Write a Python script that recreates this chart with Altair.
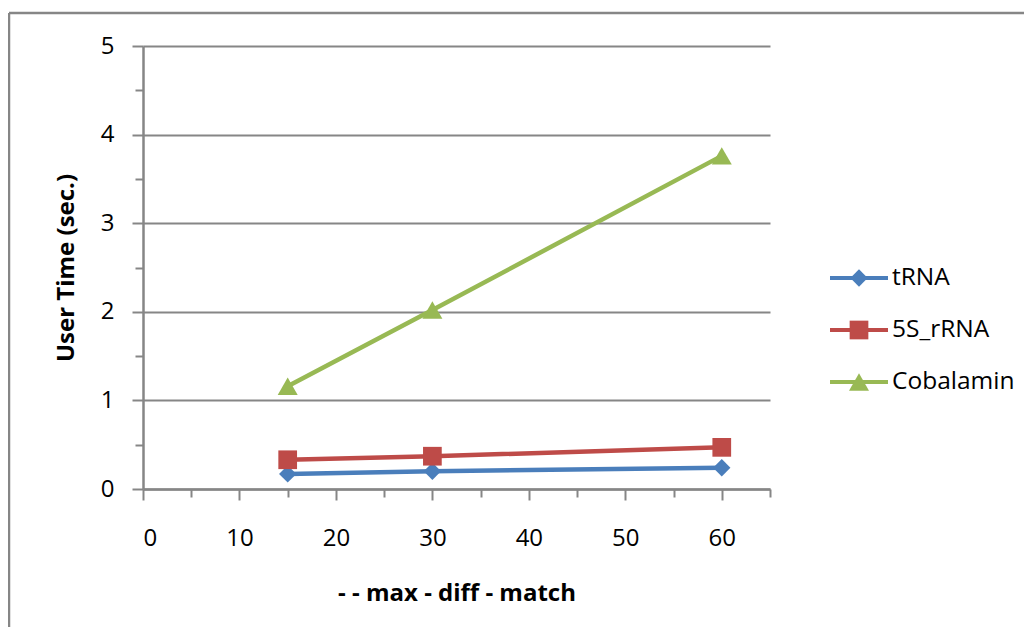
import altair as alt
import pandas as pd

x_values = [15, 30, 60]
series_names = ["tRNA", "5S_rRNA", "Cobalamin"]
trna = [0.17, 0.20, 0.24]
rrna = [0.33, 0.37, 0.47]
cobalamin = [1.16, 2.02, 3.76]
colors = ["#4A7EBB", "#BE4B48", "#98B954"]
shapes = ["diamond", "square", "triangle-up"]
sizes = [300, 400, 380]
legend_sizes = [130, 280, 220]

rows = []
for name, vals in zip(series_names, [trna, rrna, cobalamin]):
    for xv, yv in zip(x_values, vals):
        rows.append({"series": name, "x": xv, "y": yv})
df = pd.DataFrame(rows)

leg = pd.DataFrame({
    "series": series_names,
    "row": list(range(len(series_names))),
    "lx0": [0.0] * 3,
    "lx1": [1.0] * 3,
    "lxm": [0.5] * 3,
})

FONT = "Open Sans"
GRAY = "#868686"

color_scale = alt.Scale(domain=series_names, range=colors)
shape_scale = alt.Scale(domain=series_names, range=shapes)
size_scale = alt.Scale(domain=series_names, range=sizes)
lsize_scale = alt.Scale(domain=series_names, range=legend_sizes)

xs = alt.Scale(domain=[0, 65], nice=False, zero=True)
ys = alt.Scale(domain=[0, 5], nice=False)

x_axis = alt.Axis(
    values=list(range(0, 70, 5)),
    labelExpr="datum.value % 10 === 0 ? datum.label : ''",
    title="- - max - diff - match",
    titleFont=FONT, titleFontSize=24, titleFontWeight="bold", titleColor="black",
    titlePadding=31,
    labelFont=FONT, labelFontSize=24, labelColor="black", labelPadding=26,
    grid=False, domainColor=GRAY, domainWidth=2.5,
    tickColor=GRAY, tickWidth=2,
    tickSize={"condition": {"test": "datum.value % 10 === 0", "value": 11}, "value": 8},
)
y_axis = alt.Axis(
    values=[i * 0.5 for i in range(0, 11)],
    labelExpr="datum.value % 1 === 0 ? format(datum.value, 'd') : ''",
    title="User Time (sec.)",
    titleFont=FONT, titleFontSize=24, titleFontWeight="bold", titleColor="black",
    titlePadding=22,
    labelFont=FONT, labelFontSize=24, labelColor="black", labelPadding=18,
    grid=True, gridColor=GRAY, gridWidth=2,
    gridOpacity={"condition": {"test": "datum.value % 1 === 0", "value": 1}, "value": 0},
    domainColor=GRAY, domainWidth=2.5,
    tickColor=GRAY, tickWidth=2,
    tickSize={"condition": {"test": "datum.value % 1 === 0", "value": 11}, "value": 8},
)

base = alt.Chart(df)
lines = base.mark_line(strokeWidth=4.5).encode(
    x=alt.X("x:Q", scale=xs, axis=x_axis),
    y=alt.Y("y:Q", scale=ys, axis=y_axis),
    color=alt.Color("series:N", scale=color_scale, legend=None),
    detail="series:N",
)
points = base.mark_point(filled=True, opacity=1).encode(
    x=alt.X("x:Q", scale=xs),
    y=alt.Y("y:Q", scale=ys),
    color=alt.Color("series:N", scale=color_scale, legend=None),
    shape=alt.Shape("series:N", scale=shape_scale, legend=None),
    size=alt.Size("series:N", scale=size_scale, legend=None),
)
main = alt.layer(lines, points)

lxs = alt.Scale(domain=[0, 1], range=[687, 745])
lys = alt.Scale(domain=[0, 2], range=[232, 336])
lb = alt.Chart(leg)
leg_rule = lb.mark_rule(strokeWidth=4).encode(
    x=alt.X("lx0:Q", scale=lxs, axis=None),
    x2="lx1:Q",
    y=alt.Y("row:Q", scale=lys, axis=None),
    color=alt.Color("series:N", scale=color_scale, legend=None),
)
leg_pt = lb.mark_point(filled=True, opacity=1).encode(
    x=alt.X("lxm:Q", scale=lxs, axis=None),
    y=alt.Y("row:Q", scale=lys, axis=None),
    color=alt.Color("series:N", scale=color_scale, legend=None),
    shape=alt.Shape("series:N", scale=shape_scale, legend=None),
    size=alt.Size("series:N", scale=lsize_scale, legend=None),
)
leg_txt = lb.mark_text(align="left", baseline="middle", dx=4, font=FONT,
                       fontSize=24.5, color="black").encode(
    x=alt.X("lx1:Q", scale=lxs, axis=None),
    y=alt.Y("row:Q", scale=lys, axis=None),
    text="series:N",
)
legend = alt.layer(leg_rule, leg_pt, leg_txt)

one = pd.DataFrame({"a": [0]})
frame_top = alt.Chart(one).mark_rule(stroke=GRAY, strokeWidth=2.5).encode(
    x=alt.value(-134), x2=alt.value(885), y=alt.value(-33),
)
frame_left = alt.Chart(one).mark_rule(stroke=GRAY, strokeWidth=2.5).encode(
    x=alt.value(-134), y=alt.value(-33), y2=alt.value(600),
)

chart = alt.layer(frame_top, frame_left, main, legend).resolve_scale(
    x="independent", y="independent", color="shared", shape="shared"
).properties(
    width=627, height=443,
    padding={"left": 135, "top": 38, "right": 254, "bottom": 138},
    autosize="none",
).configure_view(stroke=None)

chart.save("out.html", embed_options={"renderer": "svg", "actions": False})
